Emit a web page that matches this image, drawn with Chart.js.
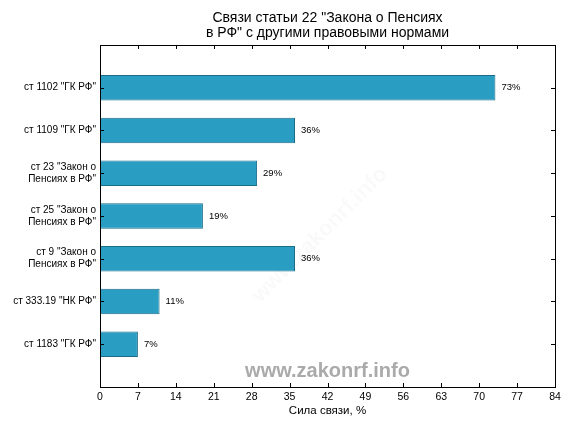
<!DOCTYPE html>
<html>
<head>
<meta charset="utf-8">
<script src="https://cdn.jsdelivr.net/npm/chart.js@4"></script>
<style>
  html, body { margin: 0; padding: 0; background: #fff; }
  #wrap { width: 576px; height: 432px; }
</style>
</head>
<body>
<div id="wrap"><canvas id="linksChart" width="576" height="432"></canvas></div>
<script>
// data
const categories = [
  'ст 1102 "ГК РФ"',
  'ст 1109 "ГК РФ"',
  ['ст 23 "Закон о', 'Пенсиях в РФ"'],
  ['ст 25 "Закон о', 'Пенсиях в РФ"'],
  ['ст 9 "Закон о', 'Пенсиях в РФ"'],
  'ст 333.19 "НК РФ"',
  'ст 1183 "ГК РФ"'
];
const strength = [73, 36, 29, 19, 36, 11, 7];
const xTicks = [0, 7, 14, 21, 28, 35, 42, 49, 56, 63, 70, 77, 84];
const titleLines = ['Связи статьи 22 "Закона о Пенсиях', 'в РФ" с другими правовыми нормами'];
const xTitle = 'Сила связи, %';
const watermark = 'www.zakonrf.info';

// empty slots at both ends so the bars sit one step away from the frame
const labels = [''].concat(categories, ['']);
const values = [null].concat(strength, [null]);

const FONT = '"Liberation Sans", Arial, sans-serif';

const decorations = {
  id: 'decorations',
  beforeDatasetsDraw(chart) {
    const { ctx } = chart;
    ctx.save();
    // faint diagonal watermark
    ctx.translate(320, 235);
    ctx.rotate(-Math.PI / 4);
    ctx.font = 'bold 22px ' + FONT;
    ctx.fillStyle = 'rgba(0,0,0,0.025)';
    ctx.textAlign = 'center';
    ctx.textBaseline = 'middle';
    ctx.fillText(watermark, 0, 0);
    ctx.restore();
  },
  afterDatasetsDraw(chart) {
    const { ctx, chartArea: a } = chart;
    const xs = chart.scales.x, ys = chart.scales.y;
    ctx.save();
    // value labels
    ctx.font = '9.5px ' + FONT;
    ctx.fillStyle = '#000';
    ctx.textBaseline = 'middle';
    ctx.textAlign = 'left';
    chart.getDatasetMeta(0).data.forEach((bar, i) => {
      if (values[i] == null) return;
      ctx.fillText(values[i] + '%', bar.x + 6, bar.y);
    });
    // frame
    ctx.strokeStyle = '#000';
    ctx.lineWidth = 1;
    ctx.strokeRect(Math.round(a.left) + 0.5, Math.round(a.top) + 0.5,
      Math.round(a.right - a.left), Math.round(a.bottom - a.top));
    // inward ticks
    ctx.beginPath();
    xTicks.forEach(v => {
      const x = Math.round(xs.getPixelForValue(v)) + 0.5;
      ctx.moveTo(x, a.bottom); ctx.lineTo(x, a.bottom - 4);
      ctx.moveTo(x, a.top); ctx.lineTo(x, a.top + 4);
    });
    for (let i = 1; i <= categories.length; i++) {
      const y = Math.round(ys.getPixelForValue(i)) + 0.5;
      ctx.moveTo(a.left, y); ctx.lineTo(a.left + 4, y);
      ctx.moveTo(a.right, y); ctx.lineTo(a.right - 4, y);
    }
    ctx.stroke();
    // grey site mark
    ctx.font = 'bold 20px ' + FONT;
    ctx.fillStyle = '#aaaaaa';
    ctx.textAlign = 'center';
    ctx.fillText(watermark, (a.left + a.right) / 2, a.bottom - 16);
    ctx.restore();
  }
};

new Chart(document.getElementById('linksChart'), {
  type: 'bar',
  data: {
    labels: labels,
    datasets: [{
      data: values,
      backgroundColor: '#2a9dc3',
      borderColor: '#1a6e8a',
      borderWidth: 1,
      borderSkipped: false,
      barPercentage: 0.6,
      categoryPercentage: 1
    }]
  },
  options: {
    indexAxis: 'y',
    responsive: false,
    animation: false,
    layout: { padding: { left: 0, right: 21, top: 0, bottom: 0 } },
    plugins: {
      legend: { display: false },
      tooltip: { enabled: false },
      title: {
        display: true,
        fullSize: false,
        text: titleLines,
        color: '#000',
        font: { family: FONT, size: 14, weight: 'normal', lineHeight: 1.07 },
        padding: { top: 11, bottom: 4 }
      }
    },
    scales: {
      x: {
        type: 'linear',
        min: 0,
        max: 84,
        afterBuildTicks: s => { s.ticks = xTicks.map(v => ({ value: v })); },
        afterFit: s => { s.height = 45; },
        grid: { display: false, drawTicks: false },
        border: { display: false },
        ticks: { color: '#000', padding: 4, font: { family: FONT, size: 10.5 } },
        title: {
          display: true,
          text: xTitle,
          color: '#000',
          font: { family: FONT, size: 11.5, lineHeight: 1.2 },
          padding: { top: 0, bottom: 14 }
        }
      },
      y: {
        type: 'category',
        offset: false,
        afterFit: s => { s.width = 100; },
        grid: { display: false, drawTicks: false },
        border: { display: false },
        ticks: {
          color: '#000',
          padding: 4,
          autoSkip: false,
          font: { family: FONT, size: 10, lineHeight: 1.2 }
        }
      }
    }
  },
  plugins: [decorations]
});
</script>
</body>
</html>
